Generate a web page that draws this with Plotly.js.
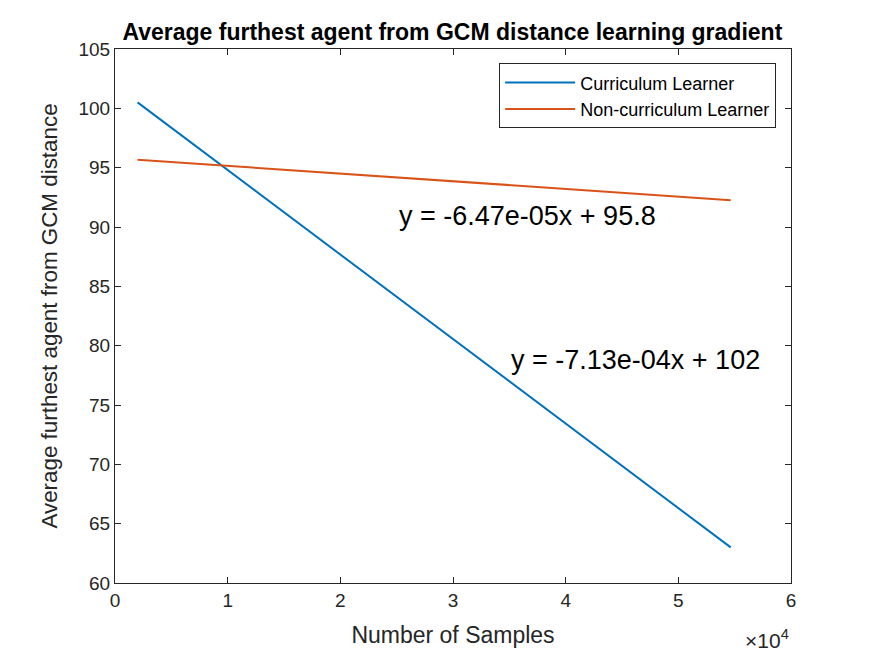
<!DOCTYPE html>
<html>
<head>
<meta charset="utf-8">
<script src="https://cdn.plot.ly/plotly-3.0.1.min.js"></script>
<style>body{margin:0;background:#fff}</style>
</head>
<body>
<div id="myDiv" style="width:875px;height:656px"></div>
<script>
// fitted lines
var samples = [2000, 54650];
var curriculum = [100.5, 63.0];
var nonCurriculum = [95.67, 92.26];

var xTicks = [0, 10000, 20000, 30000, 40000, 50000, 60000];
var xTickText = ['0', '1', '2', '3', '4', '5', '6'];
var yTicks = [60, 65, 70, 75, 80, 85, 90, 95, 100, 105];

var fitLabels = ['y = -6.47e-05x + 95.8', 'y = -7.13e-04x + 102'];
var fitLabelX = [25000, 35000];
var fitLabelY = [90.9, 78.8];

var font = 'Liberation Sans, Arial, sans-serif';
var axisCol = '#262626';

var trace1 = {
    x: samples,
    y: curriculum,
    type: 'scatter',
    mode: 'lines',
    name: 'Curriculum Learner',
    line: {color: '#0072BD', width: 2}
};

var trace2 = {
    x: samples,
    y: nonCurriculum,
    type: 'scatter',
    mode: 'lines',
    name: 'Non-curriculum Learner',
    line: {color: '#D95319', width: 2}
};

var axisCommon = {
    showgrid: false,
    zeroline: false,
    showline: true,
    linecolor: axisCol,
    linewidth: 1,
    mirror: 'ticks',
    ticks: 'inside',
    ticklen: 6,
    tickcolor: axisCol,
    tickfont: {family: font, size: 19, color: axisCol}
};

var annotations = fitLabels.map(function (t, i) {
    return {
        x: fitLabelX[i], y: fitLabelY[i], xref: 'x', yref: 'y',
        text: t, showarrow: false, xanchor: 'left', yanchor: 'middle',
        font: {family: font, size: 27, color: '#000'}
    };
});
// exponent label under the right end of the x axis
annotations.push({
    x: 1.0, y: -0.104, xref: 'paper', yref: 'paper',
    xanchor: 'right', yanchor: 'middle',
    text: '×10<sup>4</sup>', showarrow: false,
    font: {family: font, size: 21, color: axisCol}
});

var layout = {
    width: 875,
    height: 656,
    margin: {l: 115, r: 84, t: 49, b: 73},
    paper_bgcolor: '#fff',
    plot_bgcolor: '#fff',
    title: {
        text: '<b>Average furthest agent from GCM distance learning gradient</b>',
        font: {family: font, size: 23, color: '#000'},
        x: 0.517, xanchor: 'center', y: 0.952, yanchor: 'middle'
    },
    xaxis: Object.assign({}, axisCommon, {
        range: [0, 60000],
        tickvals: xTicks,
        ticktext: xTickText,
        title: {text: 'Number of Samples', font: {family: font, size: 23, color: axisCol}, standoff: 17}
    }),
    yaxis: Object.assign({}, axisCommon, {
        range: [60, 105],
        tickvals: yTicks,
        title: {text: 'Average furthest agent from GCM distance', font: {family: font, size: 22.4, color: axisCol}, standoff: 14}
    }),
    showlegend: true,
    legend: {
        x: 0.978, y: 0.973, xanchor: 'right', yanchor: 'top',
        bgcolor: '#fff', bordercolor: axisCol, borderwidth: 1,
        font: {family: font, size: 18, color: '#000'},
        itemwidth: 70,
        tracegroupgap: 0
    },
    annotations: annotations
};

Plotly.newPlot('myDiv', [trace1, trace2], layout, {displayModeBar: false});
</script>
</body>
</html>
